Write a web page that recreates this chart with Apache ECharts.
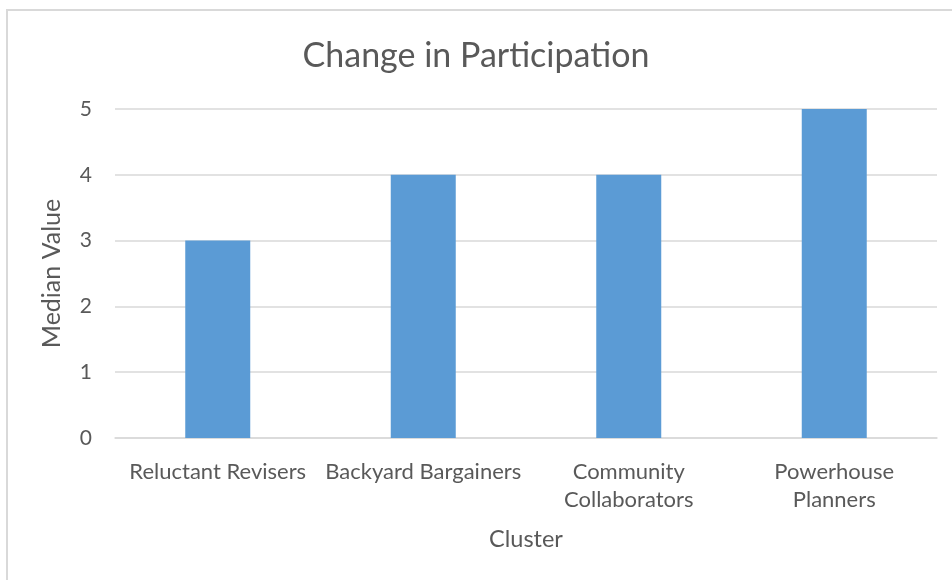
<!DOCTYPE html>
<html><head><meta charset="utf-8">
<script src="https://cdn.jsdelivr.net/npm/echarts@6/dist/echarts.min.js"></script>
<style>html,body{margin:0;padding:0;background:#fff}#c{width:952px;height:580px}</style>
</head><body><div id="c"></div>
<script>
const categories = ["Reluctant Revisers", "Backyard Bargainers", "Community Collaborators", "Powerhouse Planners"];
const tickLabels = ["Reluctant Revisers", "Backyard Bargainers", "Community\nCollaborators", "Powerhouse\nPlanners"];
const medianValues = [3, 4, 4, 5];

const chart = echarts.init(document.getElementById('c'));
const font = "Lato, 'Open Sans', sans-serif";
chart.setOption({
  animation: false,
  textStyle: { fontFamily: font },
  graphic: [{ type: 'rect', shape: { x: 7, y: 10, width: 1000, height: 700 }, style: { fill: 'none', stroke: '#d9d9d9', lineWidth: 2 } }],
  title: { text: 'Change in Participation', left: 'center', top: 34, textStyle: { fontSize: 34, fontWeight: 'normal', color: '#595959', fontFamily: font } },
  grid: { left: 115, right: 15, top: 109, bottom: 142 },
  xAxis: {
    type: 'category', data: categories,
    name: 'Cluster', nameLocation: 'middle', nameGap: 89,
    nameTextStyle: { fontSize: 23.5, color: '#595959' },
    axisLine: { lineStyle: { color: '#d9d9d9', width: 1.5 } },
    axisTick: { show: false },
    axisLabel: { interval: 0, fontSize: 22, color: '#595959', margin: 20, lineHeight: 28, formatter: (v, i) => tickLabels[i] }
  },
  yAxis: {
    type: 'value', min: 0, max: 5, interval: 1,
    name: 'Median Value', nameLocation: 'middle', nameGap: 51,
    nameTextStyle: { fontSize: 25, color: '#595959' },
    axisLine: { show: false }, axisTick: { show: false },
    axisLabel: { fontSize: 21, color: '#595959', margin: 23 },
    splitLine: { lineStyle: { color: '#d9d9d9', width: 1.5 } }
  },
  series: [{ type: 'bar', data: medianValues, barWidth: 65, itemStyle: { color: '#5b9bd5' } }]
});
</script></body></html>
